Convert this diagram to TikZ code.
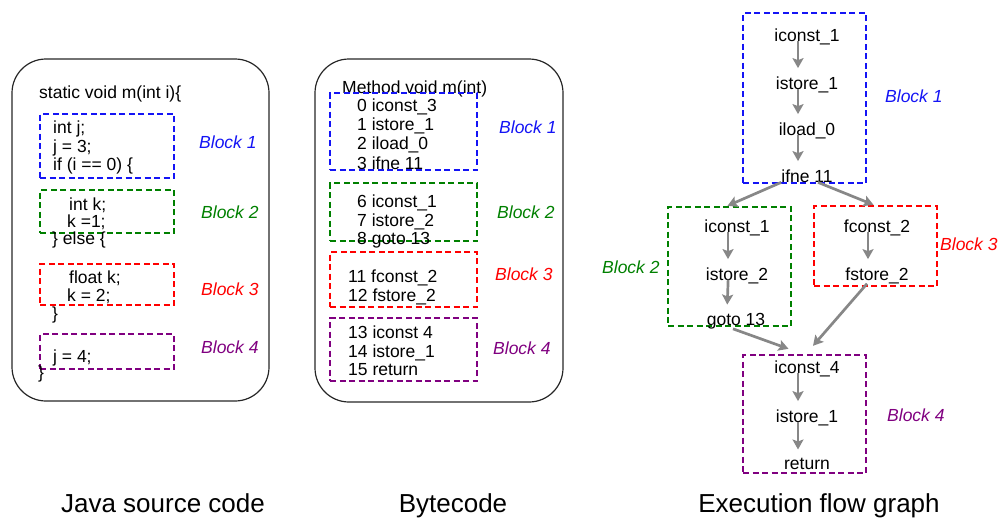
\documentclass[tikz,border=0pt]{standalone}
\usepackage{fontspec}
\setmainfont{Liberation Sans}
\usetikzlibrary{arrows.meta}
\definecolor{bblue}{RGB}{20,20,245}
\definecolor{bgreen}{RGB}{0,128,0}
\definecolor{bred}{RGB}{255,0,0}
\definecolor{bpurple}{RGB}{128,0,128}
\definecolor{flowgray}{RGB}{135,135,135}
\newcommand{\codesize}{\fontsize{17.5}{21}\selectfont}
\begin{document}
\begin{tikzpicture}[x=1pt, y=-1pt,
  code/.style={anchor=base west, inner sep=0pt, font=\codesize},
  op/.style={anchor=base, inner sep=0pt, font=\codesize},
  blklabel/.style={anchor=base west, inner sep=0pt, font=\codesize\itshape},
  blkbox/.style={draw=#1, dash pattern=on 6pt off 3.5pt, line width=2.4pt, inner sep=0pt},
  panel/.style={draw=black!85, line width=1.2pt, rounded corners=34pt},
  flow/.style={draw=flowgray, line width=2.7pt, -{Stealth[length=10pt,width=11pt,inset=2pt]}},
  inblock/.style={flow, shorten <=-4pt, shorten >=8pt},
  caption/.style={anchor=base, inner sep=0pt, font=\fontsize{26}{30}\selectfont}]
  \useasboundingbox (0,0) rectangle (1001,517);
  % panels
  \draw [panel] (12,59) rectangle (269,401);
  \draw [panel] (315,59) rectangle (563,402);

  % Java source code
  \node [code] (jhead) at (39,98) {static void m(int i)\{};
  \node [blkbox=bblue, minimum width=134pt, minimum height=64pt] (jb1) at (107,146) {};
  \node [blkbox=bgreen, minimum width=134pt, minimum height=43pt] (jb2) at (107,211.5) {};
  \node [blkbox=bred, minimum width=134pt, minimum height=41pt] (jb3) at (107,284.5) {};
  \node [blkbox=bpurple, minimum width=134pt, minimum height=35pt] (jb4) at (107,351.5) {};
  \node [code] (j1) at (53,133) {int j;};
  \node [code] (j2) at (53,152) {j = 3;};
  \node [code] (j3) at (53,170) {if (i == 0) \{};
  \node [code] (j4) at (69,210) {int k;};
  \node [code] (j5) at (67,227) {k =1;};
  \node [code] (j6) at (52,244) {\} else \{};
  \node [code] (j7) at (69,283) {float k;};
  \node [code] (j8) at (67,301) {k = 2;};
  \node [code] (j9) at (52,319) {\}};
  \node [code] (j10) at (53,362) {j = 4;};
  \node [code] (j11) at (38,378) {\}};
  \node [blklabel, bblue] (jl1) at (199,148) {Block 1};
  \node [blklabel, bgreen] (jl2) at (201,218) {Block 2};
  \node [blklabel, bred] (jl3) at (201,295) {Block 3};
  \node [blklabel, bpurple] (jl4) at (201,353) {Block 4};

  % Bytecode
  \node [code] (bhead) at (342,93) {Method void m(int)};
  \node [blkbox=bblue, minimum width=147pt, minimum height=77pt] (bb1) at (403.5,131.5) {};
  \node [blkbox=bgreen, minimum width=147pt, minimum height=58pt] (bb2) at (403.5,212) {};
  \node [blkbox=bred, minimum width=147pt, minimum height=55pt] (bb3) at (403.5,279.5) {};
  \node [blkbox=bpurple, minimum width=147pt, minimum height=63pt] (bb4) at (403.5,349.5) {};
  \node [code] (c0) at (357,111) {0 iconst\_3};
  \node [code] (c1) at (357,130) {1 istore\_1};
  \node [code] (c2) at (357,149) {2 iload\_0};
  \node [code] (c3) at (357,169) {3 ifne 11};
  \node [code] (c6) at (357,207) {6 iconst\_1};
  \node [code] (c7) at (357,226) {7 istore\_2};
  \node [code] (c8) at (357,244) {8 goto 13};
  \node [code] (c11) at (348,282) {11 fconst\_2};
  \node [code] (c12) at (348,301) {12 fstore\_2};
  \node [code] (c13) at (348,338) {13 iconst 4};
  \node [code] (c14) at (348,357) {14 istore\_1};
  \node [code] (c15) at (348,375) {15 return};
  \node [blklabel, bblue] (bl1) at (499,133) {Block 1};
  \node [blklabel, bgreen] (bl2) at (497,218) {Block 2};
  \node [blklabel, bred] (bl3) at (495,280) {Block 3};
  \node [blklabel, bpurple] (bl4) at (493,354) {Block 4};

  % Execution flow graph
  \node [blkbox=bblue, minimum width=123pt, minimum height=170pt] (fb1) at (804.5,98) {};
  \node [blkbox=bgreen, minimum width=123pt, minimum height=119pt] (fb2) at (729.5,266.5) {};
  \node [blkbox=bred, minimum width=123pt, minimum height=80pt] (fb3) at (875.5,246) {};
  \node [blkbox=bpurple, minimum width=123pt, minimum height=118pt] (fb4) at (804.5,414) {};
  \node [op] (ic1) at (807,41) {iconst\_1};
  \node [op] (is1) at (807,89) {istore\_1};
  \node [op] (il0) at (807,135) {iload\_0};
  \node [op] (ifne) at (807,182) {ifne 11};
  \node [op] (ic1b) at (737,232) {iconst\_1};
  \node [op] (is2) at (737,280) {istore\_2};
  \node [op] (goto) at (736,325) {goto 13};
  \node [op] (fc2) at (877,232) {fconst\_2};
  \node [op] (fs2) at (877,280) {fstore\_2};
  \node [op] (ic4) at (807,373) {iconst\_4};
  \node [op] (is1b) at (807,422) {istore\_1};
  \node [op] (ret) at (807,469) {return};
  \node [blklabel, bblue] (fl1) at (885,102) {Block 1};
  \node [blklabel, bgreen] (fl2) at (602,273) {Block 2};
  \node [blklabel, bred] (fl3) at (940,250) {Block 3};
  \node [blklabel, bpurple] (fl4) at (887,421) {Block 4};
  % arrows inside blocks
  \foreach \a/\b in {ic1/is1, is1/il0, il0/ifne, ic1b/is2, is2/goto, fc2/fs2, ic4/is1b, is1b/ret}
    \draw [inblock] ([xshift=-9pt]\a.south) -- ([xshift=-9pt]\b.north);
  % arrows between blocks
  \draw [flow] (ifne.south west) -- ([xshift=-2pt]fb2.north);
  \draw [flow] ([xshift=11pt]ifne.south) -- ([xshift=-2pt]fb3.north);
  \draw [flow] ([xshift=-3pt]goto.south) -- ([xshift=-16pt,yshift=5pt]fb4.north);
  \draw [flow] ([xshift=-10pt]fs2.south) -- ([xshift=8.5pt,yshift=8pt]fb4.north);

  % captions
  \node [caption] (cap1) at (163,512) {Java source code};
  \node [caption] (cap2) at (453,512) {Bytecode};
  \node [caption] (cap3) at (819,512) {Execution flow graph};
\end{tikzpicture}
\end{document}
